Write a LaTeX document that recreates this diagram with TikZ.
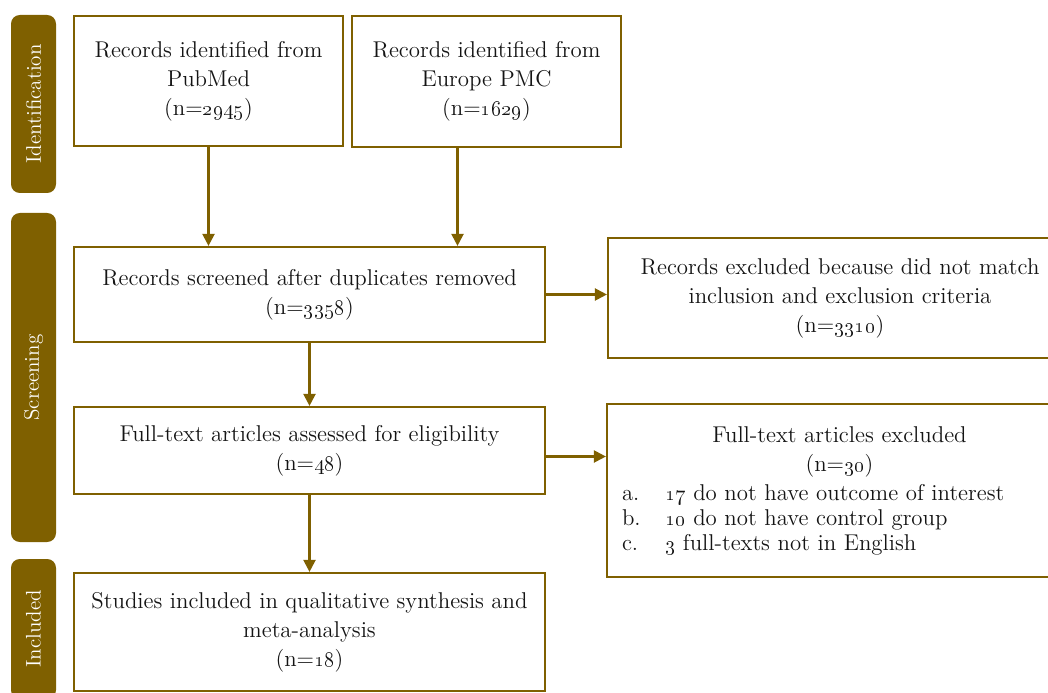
\documentclass[tikz,border=0pt]{standalone}
\usepackage{xcolor}
\usepackage{tikz}
\usetikzlibrary{arrows.meta,positioning,calc}

\definecolor{prismabrown}{RGB}{127,96,0}
\definecolor{prismatext}{RGB}{20,20,20}
\newcommand{\nval}[1]{(n=\oldstylenums{#1})}

\begin{document}
\begin{tikzpicture}[font=\fontsize{13}{16.5}\selectfont,
  box/.style={draw=prismabrown, line width=1.25pt, text=prismatext, align=center, inner sep=0.3cm},
  bar/.style={fill=prismabrown, rounded corners=5pt, minimum height=0.9cm, text=white, rotate=90,
    font=\fontsize{12}{14}\selectfont},
  arr/.style={draw=prismabrown, line width=1.25pt, -{Triangle[length=0.24cm,width=0.24cm]}}]
\useasboundingbox (0,0) rectangle (20.96,-13.86);
\clip (0,0) rectangle (20.96,-13.86);
\node[bar, minimum width=3.56cm] (ident) at (0.67,-2.08) {Identification};
\node[bar, minimum width=6.58cm] (screen) at (0.67,-7.55) {Screening};
\node[bar, minimum width=2.8cm] (incl) at (0.67,-12.58) {Included};
\node[box, minimum width=5.38cm, minimum height=2.6cm] (pubmed) at (4.17,-1.62)
  {Records identified from\\PubMed\\\nval{2945}};
\node[box, minimum width=5.38cm, minimum height=2.62cm] (epmc) at (9.73,-1.63)
  {Records identified from\\Europe PMC\\\nval{1629}};
\node[box, minimum width=9.42cm, minimum height=1.9cm] (screened) at (6.19,-5.89)
  {Records screened after duplicates removed\\\nval{3358}};
\node[box, minimum width=9.28cm, minimum height=2.4cm] (excl1) at (16.8,-5.96)
  {Records excluded because did not match\\inclusion and exclusion criteria\\\nval{3310}};
\node[box, minimum width=9.42cm, minimum height=1.74cm] (fulltext) at (6.19,-9.01)
  {Full-text articles assessed for eligibility\\\nval{48}};
\node[box, minimum width=9.3cm, minimum height=3.46cm, text width=8.7cm, align=left] (excl2) at (16.79,-9.81)
  {{\centering Full-text articles excluded\\\nval{30}\par}
   \makebox[0.86cm][l]{a.}\oldstylenums{17} do not have outcome of interest\\[-2.3pt]
   \makebox[0.86cm][l]{b.}\oldstylenums{10} do not have control group\\[-2.3pt]
   \makebox[0.86cm][l]{c.}\oldstylenums{3} full-texts not in English};
\node[box, minimum width=9.42cm, minimum height=2.36cm] (included) at (6.19,-12.64)
  {Studies included in qualitative synthesis and\\meta-analysis\\\nval{18}};
\draw[arr] (pubmed.south) -- (pubmed.south |- screened.north);
\draw[arr] ([xshift=-0.58cm]epmc.south) -- ([xshift=-0.58cm]epmc.south |- screened.north);
\draw[arr] (screened.east) -- (screened.east -| excl1.west);
\draw[arr] (screened.south) -- (fulltext.north);
\draw[arr] ([yshift=-0.12cm]fulltext.east) -- ([yshift=-0.12cm]fulltext.east -| excl2.west);
\draw[arr] (fulltext.south) -- (included.north);
\end{tikzpicture}
\end{document}
